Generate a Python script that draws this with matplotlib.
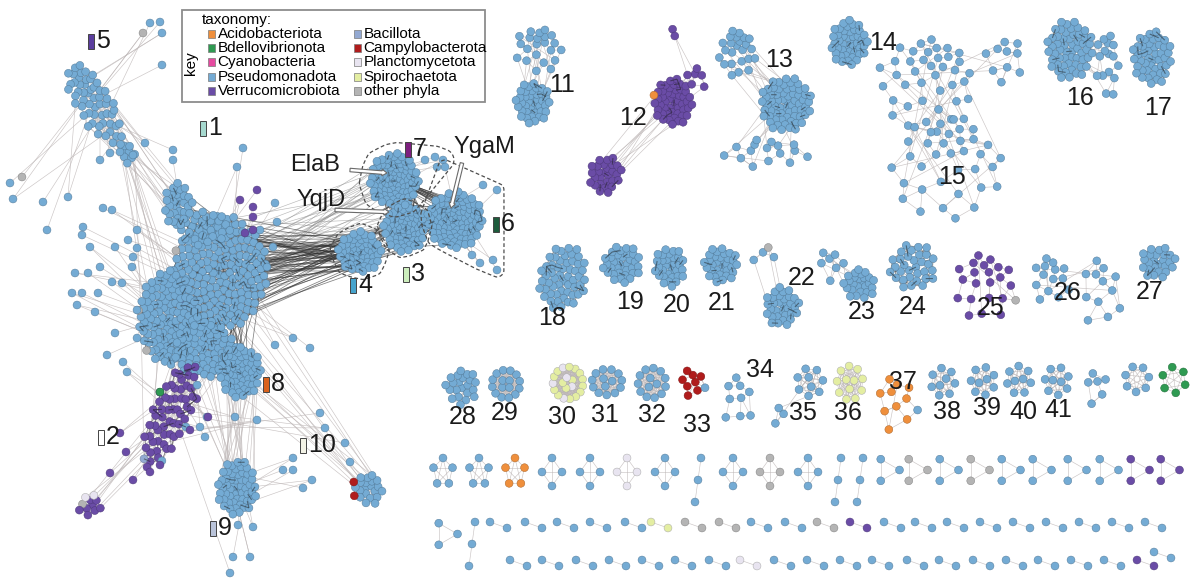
import numpy as np
import matplotlib.pyplot as plt
import matplotlib.colors as mcolors
from matplotlib.collections import LineCollection
from matplotlib.patches import Rectangle, FancyArrow

FONT = ["Liberation Sans Narrow", "Liberation Sans", "DejaVu Sans"]
plt.rcParams["font.family"] = FONT

# ---------------- data ----------------
TAXA = ["Acidobacteriota", "Bdellovibrionota", "Cyanobacteria", "Pseudomonadota",
        "Verrucomicrobiota", "Bacillota", "Campylobacterota", "Planctomycetota",
        "Spirochaetota", "other phyla"]
TAXA_KEYS = ["acido", "bdello", "cyano", "pseudo", "verru", "bacil", "campy",
             "plancto", "spiro", "other"]
TAXA_COLORS = ["#ef8f3c", "#2f9a52", "#e64aa0", "#74abd4", "#6a4ca6",
               "#93a9d2", "#b01c1c", "#e8e4f0", "#e4eea2", "#b4b4b4"]

# giant component, clusters 1-10
MAIN_PARTS = ["core_r", "core_l", "core_b", "top", "sub", "c5", "c5_tail", "c8",
              "c2", "c2_small", "c9", "c10", "c7", "c3", "c6", "c4"]
MAIN_NODES = [180, 115, 70, 30, 28, 55, 10, 60, 60, 11, 55, 22, 85, 65, 95, 55]
MAIN_TAXON = ["pseudo"] * 8 + ["verru", "verru"] + ["pseudo"] * 6
MAIN_MINOR = {"c2": [("bacil", 1), ("pseudo", 3)],
              "c2_small": [("plancto", 2), ("other", 1)],
              "c10": [("campy", 2)],
              "core_r": [("other", 2), ("verru", 1)],
              "core_l": [("other", 2)]}
MAIN_LABELS = ["1", "2", "3", "4", "5", "6", "7", "8", "9", "10"]
MAIN_LABEL_COLORS = ["#a6d9cf", "#ffffff", "#cdeebd", "#46a3cc", "#5b3e9e",
                     "#1d5b3c", "#7d1f7f", "#d9621c", "#b9c3d9", "#f3f3e6"]

# other numbered clusters (11-41) and three unnamed ones
CLUSTER_LABELS = [str(i) for i in range(11, 42)]
RIGHT_PARTS = ["11", "11s", "12", "12b", "12s", "12t", "13", "13s", "13t", "14",
               "15", "15b", "15c", "16", "16s", "17", "18", "19", "20", "21",
               "22", "22s", "23", "23s", "24", "25", "26", "26b", "27", "28",
               "29", "30", "31", "32", "33", "34", "35", "35t", "36", "37",
               "38", "39", "40", "41", "u1", "u2", "u3"]
RIGHT_NODES = [40, 22, 50, 28, 6, 2, 65, 24, 16, 45,
               40, 35, 10, 55, 16, 45, 55, 35, 32, 32,
               32, 4, 26, 7, 32, 22, 14, 12, 25, 22,
               16, 20, 14, 14, 9, 9, 9, 3, 12, 11,
               9, 9, 9, 9, 6, 7, 6]
RIGHT_TAXON = (["pseudo", "pseudo", "verru", "verru", "verru", "verru"] + ["pseudo"] * 19
               + ["verru", "pseudo", "pseudo", "pseudo", "pseudo", "pseudo", "spiro",
                  "pseudo", "pseudo", "campy", "pseudo", "pseudo", "pseudo", "spiro",
                  "acido", "pseudo", "pseudo", "pseudo", "pseudo", "pseudo", "pseudo",
                  "bdello"])
RIGHT_MINOR = {"12": [("acido", 1)], "22s": [("other", 1)], "25": [("other", 1)],
               "30": [("plancto", 5)], "33": [("pseudo", 1)], "37": [("pseudo", 1)]}

# rows of small components
ROW1_NODES = [5, 5, 5, 4, 4, 4, 4, 3, 4, 4, 4, 3, 3, 3, 3, 3, 3, 3, 3, 3, 3, 3, 3]
ROW1_TAXON = ["pseudo", "pseudo", "acido", "pseudo", "pseudo", "plancto", "pseudo",
              "pseudo", "pseudo", "other", "pseudo", "pseudo", "pseudo", "pseudo",
              "other", "pseudo", "other", "pseudo", "pseudo", "pseudo", "pseudo",
              "verru", "verru"]
ROW2_NODES = [3, 3] + [2] * 21
ROW2_TAXON = (["pseudo"] * 7 + ["spiro", "other", "other", "pseudo", "pseudo", "other",
                                "verru"] + ["pseudo"] * 9)
ROW3_NODES = [2] * 21
ROW3_TAXON = ["pseudo"] * 7 + ["plancto"] + ["pseudo"] * 11 + ["verru", "pseudo"]

GENES = ["ElaB", "YqjD", "YgaM"]

# ---------------- layout ----------------
# name: (cx, cy, rx, ry, angle, kind)
LAYOUT = {
    "core_r": (220, 272, 48, 58, 0, "dense"), "core_l": (168, 318, 30, 48, 0, "dense"),
    "core_b": (205, 350, 32, 28, 0, "dense"), "top": (203, 226, 28, 18, 0, "loose"),
    "sub": (178, 205, 15, 22, 0, "dense"), "c5": (93, 100, 18, 46, -30, "loose"),
    "c5_tail": (126, 152, 8, 12, -20, "loose"), "c8": (240, 372, 22, 26, 0, "dense"),
    "c2": (171, 414, 20, 56, 23, "dense"), "c2_small": (90, 505, 12, 12, 0, "loose"),
    "c9": (237, 488, 20, 28, 0, "dense"), "c10": (368, 488, 16, 16, 0, "loose"),
    "c7": (394, 180, 25, 27, 0, "dense"), "c3": (405, 228, 22, 24, 0, "dense"),
    "c6": (455, 220, 28, 29, 0, "dense"), "c4": (360, 252, 22, 21, 0, "dense"),
    "11": (533, 103, 18, 21, 0, "dense"), "11s": (540, 45, 24, 24, 0, "sparse"),
    "12": (673, 102, 20, 24, 0, "dense"), "12b": (605, 175, 16, 20, 20, "dense"),
    "12s": (697, 76, 10, 14, 0, "sparse"), "12t": (673, 33, 2, 12, 0, "sparse"),
    "13": (786, 104, 26, 28, 0, "dense"), "13s": (738, 48, 18, 26, 0, "sparse"),
    "13t": (768, 150, 42, 16, 0, "sparse"), "14": (849, 43, 19, 23, 0, "dense"),
    "15": (930, 75, 48, 52, 0, "sparse"), "15b": (950, 158, 58, 55, 0, "sparse"),
    "15c": (1005, 55, 22, 25, 0, "sparse"), "16": (1070, 50, 24, 30, 0, "dense"),
    "16s": (1108, 58, 12, 36, 0, "sparse"), "17": (1152, 58, 20, 28, 0, "dense"),
    "18": (563, 278, 24, 33, 10, "dense"), "19": (622, 264, 20, 19, 0, "dense"),
    "20": (670, 267, 16, 20, 0, "dense"), "21": (721, 265, 18, 18, 0, "dense"),
    "22": (782, 307, 18, 20, 0, "dense"), "22s": (765, 255, 14, 12, 0, "sparse"),
    "23": (860, 283, 16, 16, 0, "loose"), "23s": (830, 262, 14, 18, 0, "sparse"),
    "24": (913, 267, 24, 24, 0, "dense"), "25": (985, 280, 33, 36, 0, "sparse"),
    "26": (1050, 275, 20, 25, 0, "sparse"), "26b": (1100, 285, 22, 37, 0, "sparse"),
    "27": (1158, 262, 18, 17, 0, "dense"), "28": (462, 385, 17, 18, 0, "loose"),
    "29": (506, 384, 14, 14, 0, "ring"), "30": (568, 383, 15, 16, 0, "ring"),
    "31": (607, 382, 15, 13, 0, "ring"), "32": (652, 383, 14, 15, 0, "ring"),
    "33": (692, 382, 14, 15, 0, "loose"), "34": (737, 395, 17, 27, 0, "sparse"),
    "35": (810, 382, 13, 14, 0, "ring"), "35t": (780, 415, 10, 11, 0, "sparse"),
    "36": (850, 383, 13, 17, 0, "ring"), "37": (896, 398, 22, 30, 0, "sparse"),
    "38": (943, 382, 12, 14, 0, "ring"), "39": (983, 381, 12, 14, 0, "ring"),
    "40": (1019, 380, 12, 14, 0, "ring"), "41": (1057, 381, 12, 14, 0, "ring"),
    "u1": (1097, 385, 15, 18, 0, "sparse"), "u2": (1137, 379, 12, 13, 0, "ring"),
    "u3": (1174, 380, 12, 13, 0, "ring"),
}
CLUSTER_LABEL_POS = [(562, 85), (633, 118), (779, 60), (883, 43), (952, 177), (1080, 98),
                     (1158, 108), (552, 318), (630, 302), (677, 305), (722, 303),
                     (802, 278), (862, 312), (913, 307), (991, 308), (1068, 293),
                     (1150, 292), (463, 417), (505, 413), (562, 417), (605, 415),
                     (652, 415), (697, 425), (760, 370), (803, 413), (848, 413),
                     (903, 382), (947, 412), (987, 408), (1023, 412), (1058, 410)]
MAIN_LABEL_POS = [(200, 128), (98, 437), (403, 274), (350, 285), (88, 41),
                  (493, 224), (405, 149), (263, 384), (210, 528), (300, 445)]

# loose nodes hanging off the giant component
SAT_XY = [(143, 33), (150, 23), (160, 22), (162, 33), (162, 65),
          (10, 183), (13, 199), (22, 177), (43, 202), (68, 197), (83, 227), (103, 208),
          (112, 210), (47, 230), (82, 235), (90, 247), (115, 247), (128, 240), (137, 230),
          (137, 248), (133, 257), (72, 293), (82, 293), (98, 293), (75, 273), (88, 273),
          (100, 267), (112, 282), (122, 283), (132, 267), (145, 143), (173, 150),
          (173, 160), (100, 160), (110, 153), (133, 155), (77, 305), (95, 312),
          (115, 333), (137, 338), (107, 355), (123, 362), (127, 372), (137, 310),
          (243, 148), (237, 167), (275, 203), (277, 222), (273, 247), (267, 267),
          (260, 230), (293, 338), (310, 348), (275, 345), (257, 420), (235, 417),
          (207, 417), (200, 427), (205, 437), (320, 413), (325, 428), (345, 443),
          (350, 462), (293, 458), (283, 470), (293, 470), (312, 480), (303, 488),
          (233, 557), (250, 557), (230, 573), (238, 525), (253, 527),
          (483, 185), (497, 190), (480, 263), (493, 260), (497, 270), (472, 255),
          (425, 160), (435, 157), (443, 160), (445, 167), (437, 167)]
SAT_PURPLE_XY = [(240, 200), (257, 190), (253, 207), (253, 217), (253, 230), (245, 233),
                 (120, 433), (126, 452), (110, 473), (133, 480), (147, 467), (150, 472),
                 (160, 465), (190, 430), (208, 417)]
SAT_GREEN_XY = [(160, 392)]
SAT_GREY_IDX = [0, 7]

LINKS = [("core_r", "c4", 70, "dark"), ("core_r", "c7", 25, "mid"), ("core_r", "c3", 20, "mid"),
         ("c7", "c3", 30, "dark"), ("c3", "c6", 30, "dark"), ("c7", "c6", 20, "dark"),
         ("c4", "c3", 20, "dark"), ("c5", "c5_tail", 12, "light"), ("c5", "sub", 14, "light"),
         ("c5_tail", "core_l", 10, "light"), ("sub", "top", 15, "dark"), ("top", "core_r", 20, "mid"),
         ("core_l", "core_r", 30, "dark"), ("core_b", "core_l", 20, "dark"),
         ("core_b", "core_r", 20, "dark"), ("c8", "core_r", 20, "dark"), ("c8", "core_b", 15, "dark"),
         ("c2", "core_b", 25, "light"), ("c2", "core_l", 15, "light"), ("c2_small", "c2", 8, "light"),
         ("c9", "c8", 20, "light"), ("c9", "core_b", 8, "light"), ("c10", "core_r", 8, "light"),
         ("c10", "c8", 6, "light"), ("11", "11s", 12, "light"), ("12", "12b", 10, "light"),
         ("12", "12s", 6, "light"), ("12s", "12t", 2, "light"), ("13", "13s", 14, "light"),
         ("13", "13t", 10, "light"), ("15", "15b", 20, "light"), ("15", "15c", 5, "light"),
         ("16", "16s", 12, "light"), ("22", "22s", 3, "light"), ("23", "23s", 5, "light"),
         ("26", "26b", 4, "light"), ("35", "35t", 2, "light")]
OUTLINED = ["c7", "c6", "c3", "c4"]
OUTLINE_PAD = [11, 7, 6, 8]

ROW1_X = [443, 479, 515, 552, 590, 627, 665, 698, 733, 770, 808, 838, 860,
          885, 913, 944, 975, 1006, 1037, 1072, 1104, 1135, 1165]
ROW1_SHAPE = ["poly"] * 7 + ["chain"] + ["poly"] * 3 + ["chain", "chain"] + ["tri"] * 10
ROW2_X = [443, 472, 490, 525, 557, 590, 625, 651, 685, 719, 751, 785, 817, 850, 884,
          915, 947, 980, 1013, 1046, 1079, 1112, 1145]
ROW2_SHAPE = ["tri", "chain"] + ["pair"] * 21
ROW3_X = [510, 542, 576, 609, 642, 675, 709, 740, 774, 807, 840, 872, 907, 939, 973,
          1006, 1038, 1071, 1104, 1137, 1154]
ROW3_SHAPE = ["pair"] * 21
ROW_TOP = [458, 522, 560]

EDGE_STYLE = {"dark": ("#2e2e2e", 0.55, 0.6), "mid": ("#8a8a8a", 0.45, 0.6),
              "light": ("#bdb6b6", 0.45, 0.8)}

GOLD = np.pi * (3 - np.sqrt(5))
TCOL = dict(zip(TAXA_KEYS, TAXA_COLORS))


def unit_layout(name, n, kind):
    seed = sum(ord(c) for c in name) * 0.37
    i = np.arange(n)
    if kind == "ring":
        n_in = n // 4 if n >= 8 else 0
        n_out = n - n_in
        t = 2 * np.pi * np.arange(n_out) / n_out + seed
        u, v = np.cos(t), np.sin(t)
        if n_in:
            t2 = 2 * np.pi * np.arange(n_in) / n_in + seed + 0.5
            u = np.r_[u, 0.35 * np.cos(t2)]
            v = np.r_[v, 0.35 * np.sin(t2)]
        return u, v
    r = np.sqrt((i + 0.5) / n)
    jit = {"dense": 0.0, "loose": 0.12, "sparse": 0.3}[kind]
    if jit:
        r = np.clip(r * (1 + jit * np.sin(i * 2.39 + seed)), 0.05, 1.1)
    t = i * GOLD + seed
    return r * np.cos(t), r * np.sin(t)


def place(name, n):
    cx, cy, rx, ry, ang, kind = LAYOUT[name]
    u, v = unit_layout(name, n, kind)
    a = np.deg2rad(ang)
    x = cx + u * rx * np.cos(a) - v * ry * np.sin(a)
    y = cy + u * rx * np.sin(a) + v * ry * np.cos(a)
    return np.c_[x, y]


def knn_pairs(P, k):
    n = len(P)
    if n < 2:
        return set()
    d = ((P[:, None, :] - P[None, :, :]) ** 2).sum(-1)
    np.fill_diagonal(d, np.inf)
    idx = np.argsort(d, axis=1)[:, :min(k, n - 1)]
    return {(min(i, j), max(i, j)) for i in range(n) for j in idx[i]}


def hull(P):
    pts = sorted(set(map(tuple, np.round(P, 3))))

    def cross(o, a, b):
        return (a[0] - o[0]) * (b[1] - o[1]) - (a[1] - o[1]) * (b[0] - o[0])
    lower, upper = [], []
    for p in pts:
        while len(lower) >= 2 and cross(lower[-2], lower[-1], p) <= 0:
            lower.pop()
        lower.append(p)
    for p in reversed(pts):
        while len(upper) >= 2 and cross(upper[-2], upper[-1], p) <= 0:
            upper.pop()
        upper.append(p)
    return np.array(lower[:-1] + upper[:-1])


def chaikin(P, it=3):
    for _ in range(it):
        Q = np.roll(P, -1, axis=0)
        R = np.empty((2 * len(P), 2))
        R[0::2] = 0.75 * P + 0.25 * Q
        R[1::2] = 0.25 * P + 0.75 * Q
        P = R
    return P


def darker(c, f=0.75):
    r, g, b = mcolors.to_rgb(c)
    return (r * f, g * f, b * f)


fig = plt.figure(figsize=(12, 5.83), dpi=100)
ax = fig.add_axes([0, 0, 1, 1])
ax.set_xlim(0, 1200)
ax.set_ylim(583, 0)
ax.axis("off")

pos, cols = {}, {}
under = {"dark": [], "mid": [], "light": []}
over = []

all_parts = list(zip(MAIN_PARTS, MAIN_NODES, MAIN_TAXON)) + \
    list(zip(RIGHT_PARTS, RIGHT_NODES, RIGHT_TAXON))
minor = {**MAIN_MINOR, **RIGHT_MINOR}

for name, n, tax in all_parts:
    P = place(name, n)
    c = [tax] * n
    k = n - 1
    for mt, cnt in minor.get(name, []):
        for _ in range(cnt):
            c[k] = mt
            k -= 3
    pos[name], cols[name] = P, c
    kind = LAYOUT[name][5]
    if kind == "ring":
        pairs = {(i, j) for i in range(n) for j in range(i + 1, n)}
        under["light"] += [(P[i], P[j]) for i, j in pairs]
        continue
    kk = {"dense": 4, "loose": 3, "sparse": 2}[kind]
    pairs = sorted(knn_pairs(P, kk))
    style = "dark" if kind == "dense" else "light"
    under[style] += [(P[i], P[j]) for i, j in pairs]
    if kind == "dense":
        over += [(P[i], P[j]) for q, (i, j) in enumerate(pairs) if q % 14 == 0]
        under["light"] += [(P[i], P[(i * 37 + 11) % n]) for i in range(0, n, 3)]
    else:
        under["light"] += [(P[i], P[(i * 7 + 3) % n]) for i in range(0, n, 4)]

for a, b, m, style in LINKS:
    A, B = pos[a], pos[b]
    for q in range(m):
        under[style].append((A[(q * 17) % len(A)], B[(q * 29 + 5) % len(B)]))

# satellites attached to the nearest part of the giant component
sat_xy = np.array(SAT_XY + SAT_PURPLE_XY + SAT_GREEN_XY, float)
sat_tax = ["pseudo"] * len(SAT_XY) + ["verru"] * len(SAT_PURPLE_XY) + ["bdello"] * len(SAT_GREEN_XY)
for gi in SAT_GREY_IDX:
    sat_tax[gi] = "other"
sat_owner = []
for s, (x, y) in enumerate(sat_xy):
    best = min(MAIN_PARTS, key=lambda p: np.hypot(x - LAYOUT[p][0], y - LAYOUT[p][1])
               / max(LAYOUT[p][2], LAYOUT[p][3]))
    sat_owner.append(best)
    P = pos[best]
    inner = max(1, len(P) // 3)
    under["light"].append(((x, y), P[(s * 11) % inner]))
    if s % 3 == 0:
        under["light"].append(((x, y), P[(s * 23 + 4) % len(P)]))

# small components in rows
row_specs = [(ROW1_X, ROW1_SHAPE, ROW1_NODES, ROW1_TAXON, ROW_TOP[0]),
             (ROW2_X, ROW2_SHAPE, ROW2_NODES, ROW2_TAXON, ROW_TOP[1]),
             (ROW3_X, ROW3_SHAPE, ROW3_NODES, ROW3_TAXON, ROW_TOP[2])]
small_xy, small_c = [], []
for xs, shapes, nodes, taxa, top in row_specs:
    for q, (x, sh, n, tx) in enumerate(zip(xs, shapes, nodes, taxa)):
        if sh == "poly":
            t = np.pi / 2 + 2 * np.pi * np.arange(n) / n
            P = np.c_[x + 10 * np.cos(t), top + 14 - 14 * np.sin(t)]
            pairs = [(i, j) for i in range(n) for j in range(i + 1, n)]
        elif sh == "tri":
            t = 2 * np.pi * np.arange(3) / 3
            P = np.c_[x + 12.5 * np.cos(t) + 2, top + 12 + 12.5 * np.sin(t)]
            pairs = [(0, 1), (1, 2), (0, 2)]
        elif sh == "chain":
            k = np.arange(n)
            P = np.c_[x + 3 - 3 * k, top + 22 * k]
            pairs = [(i, i + 1) for i in range(n - 1)]
        else:
            dy = -8 if (xs is ROW3_X and q == len(xs) - 1) else 0
            P = np.array([[x, top + dy], [x + 17, top + 6 + dy]], float)
            pairs = [(0, 1)]
        under["light"] += [(P[i], P[j]) for i, j in pairs]
        small_xy.append(P)
        small_c += [tx] * n

# ---- draw edges ----
for style in ["light", "mid", "dark"]:
    col, lw, al = EDGE_STYLE[style]
    ax.add_collection(LineCollection(under[style], colors=col, linewidths=lw, alpha=al, zorder=1))

# ---- draw nodes ----
XY = np.vstack([pos[p] for p, _, _ in all_parts] + [sat_xy] + small_xy)
C = sum([cols[p] for p, _, _ in all_parts], []) + sat_tax + small_c
fc = [TCOL[c] for c in C]
ec = [darker(TCOL[c], 0.72) if c not in ("plancto", "spiro") else "#a9a9a9" for c in C]
ax.scatter(XY[:, 0], XY[:, 1], s=32, c=fc, edgecolors=ec, linewidths=0.35, zorder=2)
ax.add_collection(LineCollection(over, colors="#1e1e1e", linewidths=0.8, alpha=0.5, zorder=3))

# ---- dashed outlines around clusters 3, 4, 6, 7 ----
circ = np.c_[np.cos(np.linspace(0, 2 * np.pi, 24, endpoint=False)),
             np.sin(np.linspace(0, 2 * np.pi, 24, endpoint=False))]
for name, padr in zip(OUTLINED, OUTLINE_PAD):
    P = pos[name]
    extra = sat_xy[[i for i, o in enumerate(sat_owner) if o == name]]
    if len(extra):
        P = np.vstack([P, extra])
    pad = (P[:, None, :] + padr * circ[None]).reshape(-1, 2)
    Hh = chaikin(hull(pad), 3)
    Hh = np.vstack([Hh, Hh[:1]])
    ax.plot(Hh[:, 0], Hh[:, 1], color="#4d4d4d", lw=0.9, ls=(0, (3, 2)), zorder=4)

# ---- cluster labels ----
for lab, (x, y), fcol in zip(MAIN_LABELS, MAIN_LABEL_POS, MAIN_LABEL_COLORS):
    ax.add_patch(Rectangle((x, y - 7.5), 6, 15, fc=fcol, ec="#444444", lw=0.7, zorder=5))
    ax.text(x + 8, y, lab, fontsize=18, ha="left", va="center", color="#1a1a1a", zorder=5)
for lab, (x, y) in zip(CLUSTER_LABELS, CLUSTER_LABEL_POS):
    ax.text(x, y, lab, fontsize=18, ha="center", va="center", color="#1a1a1a", zorder=5)

# ---- gene annotations ----
gene_text = [(315, 165), (321, 200), (484, 147)]
gene_arrow = [(350, 170, 37, 3), (335, 210, 54, 2), (462, 163, -11, 45)]
for g, (tx, ty), (ax0, ay0, dx, dy) in zip(GENES, gene_text, gene_arrow):
    ax.text(tx, ty, g, fontsize=17, ha="center", va="center", color="#1a1a1a", zorder=6)
    ax.add_patch(FancyArrow(ax0, ay0, dx, dy, width=3.5, head_width=6.5, head_length=5,
                            length_includes_head=True, fc="white", ec="#6a6a6a",
                            lw=0.8, zorder=6))

# ---- taxonomy key ----
ax.add_patch(Rectangle((182, 10), 303, 92, fc="white", ec="#8c8c8c", lw=1.3, zorder=6))
ax.text(191, 63, "key", rotation=90, fontsize=11, ha="center", va="center", zorder=7)
ax.text(202, 20, "taxonomy:", fontsize=11, ha="left", va="center", zorder=7)
for k, (name, col) in enumerate(zip(TAXA, TAXA_COLORS)):
    sx = 208 if k < 5 else 354
    sy = 33.5 + (k % 5) * 14.4
    ax.add_patch(Rectangle((sx, sy - 4), 7, 8, fc=col, ec="#7a7a7a", lw=0.5, zorder=7))
    ax.text(sx + 9.5, sy, name, fontsize=11, ha="left", va="center", zorder=7)

fig.savefig("out.png", dpi=100)
